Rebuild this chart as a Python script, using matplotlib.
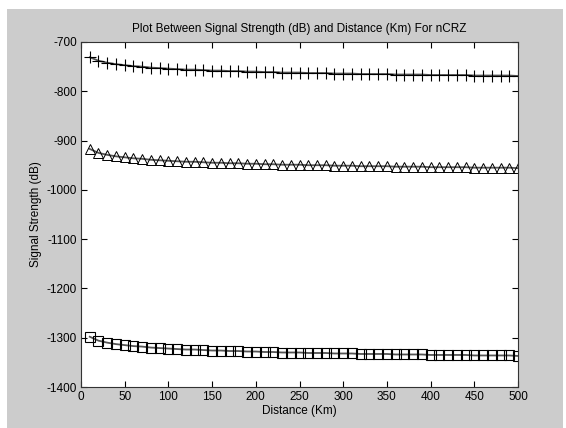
import matplotlib
matplotlib.use("Agg")
import matplotlib.pyplot as plt
from matplotlib.patches import Rectangle

distance = list(range(10, 501, 10))

# '+' series
plus_db = [-731, -738, -742, -745, -747, -749, -750, -752, -753, -754,
           -755, -756, -756, -757, -758, -758, -759, -759, -760, -760,
           -761, -761, -762, -762, -762, -763, -763, -763, -764, -764,
           -764, -765, -765, -765, -765, -766, -766, -766, -766, -767,
           -767, -767, -767, -767, -768, -768, -768, -768, -768, -769]

# triangle series
tri_db = [-917, -925, -929, -932, -934, -936, -937, -939, -940, -941,
          -942, -943, -943, -944, -945, -945, -946, -946, -947, -947,
          -948, -948, -949, -949, -949, -950, -950, -950, -951, -951,
          -951, -952, -952, -952, -952, -953, -953, -953, -953, -954,
          -954, -954, -954, -954, -955, -955, -955, -955, -955, -956]

# square series
sq_db = [-1298, -1306, -1310, -1313, -1315, -1317, -1318, -1320, -1321, -1322,
         -1323, -1324, -1324, -1325, -1326, -1326, -1327, -1327, -1328, -1328,
         -1329, -1329, -1330, -1330, -1330, -1331, -1331, -1331, -1332, -1332,
         -1332, -1333, -1333, -1333, -1333, -1334, -1334, -1334, -1334, -1335,
         -1335, -1335, -1335, -1335, -1336, -1336, -1336, -1336, -1336, -1337]

plt.rcParams['font.family'] = ['Liberation Sans', 'DejaVu Sans']
plt.rcParams['font.size'] = 8.5
plt.rcParams['axes.unicode_minus'] = False

fig = plt.figure(figsize=(5.66, 4.28), dpi=100)
fig.patch.set_facecolor('white')
fig.patches.append(Rectangle((7 / 566, 0), 556 / 566, 1 - 9 / 428,
                             transform=fig.transFigure, facecolor='#cccccc',
                             edgecolor='none', zorder=-10))

ax = fig.add_axes([81 / 566, 1 - 387 / 428, 437 / 566, 345 / 428])
ax.set_facecolor('white')

line_kw = dict(color='#555555', lw=1.3, mec='black', mfc='none')
ax.plot(distance, plus_db, marker='+', ms=8, mew=0.8, **line_kw)
ax.plot(distance, tri_db, marker='^', ms=6.5, mew=0.7, **line_kw)
ax.plot(distance, sq_db, marker='s', ms=6.5, mew=0.8, **line_kw)

ax.set_xlim(0, 500)
ax.set_ylim(-1400, -700)
ax.set_xticks(range(0, 501, 50))
ax.set_yticks(range(-1400, -699, 100))
ax.tick_params(direction='in', top=True, right=True, length=4, width=0.8,
               colors='black', pad=3)
for s in ax.spines.values():
    s.set_linewidth(0.8)
    s.set_color('#333333')

ax.set_title('Plot Between Signal Strength (dB) and Distance (Km) For nCRZ',
             fontsize=8.5, pad=7)
ax.set_xlabel('Distance (Km)', labelpad=1)
ax.set_ylabel('Signal Strength (dB)', labelpad=3)

fig.savefig('out.png', dpi=100, facecolor=fig.get_facecolor())
